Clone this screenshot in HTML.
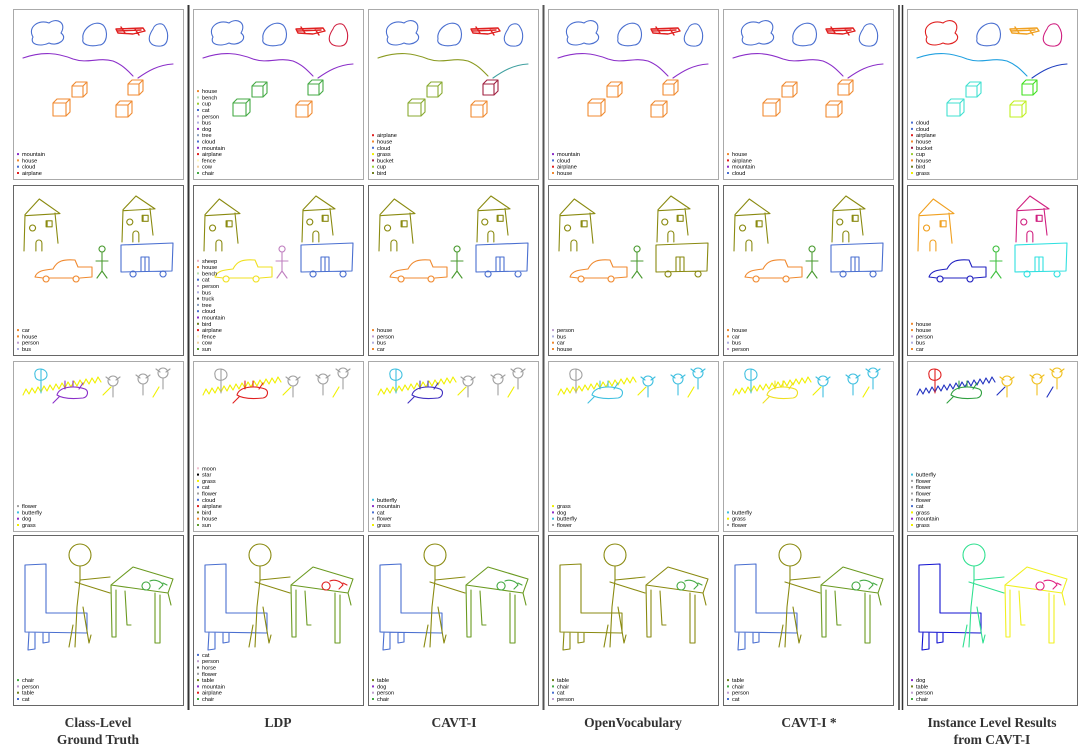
<!DOCTYPE html>
<html><head><meta charset="utf-8">
<style>
html,body{margin:0;padding:0;background:#fff;width:1091px;height:752px;overflow:hidden}
svg{display:block}
.lab{font-family:"Liberation Serif",serif;font-weight:bold;font-size:13.5px;fill:#333;text-anchor:middle}
.lg{font-family:"Liberation Sans",sans-serif;font-size:5.6px;fill:#000}
</style></head><body>
<svg id="fig" width="1091" height="752" viewBox="0 0 1091 752" xmlns="http://www.w3.org/2000/svg">
<line x1="188.5" y1="5" x2="188.5" y2="710" stroke="#333" stroke-width="2"/>
<line x1="543.5" y1="5" x2="543.5" y2="710" stroke="#555" stroke-width="2"/>
<line x1="899" y1="5" x2="899" y2="710" stroke="#333" stroke-width="1.5"/>
<line x1="902.5" y1="5" x2="902.5" y2="710" stroke="#333" stroke-width="1.5"/>
<text class="lab" x="98" y="727">Class-Level</text>
<text class="lab" x="98" y="744">Ground Truth</text>
<text class="lab" x="278" y="727">LDP</text>
<text class="lab" x="454" y="727">CAVT-I</text>
<text class="lab" x="633" y="727">OpenVocabulary</text>
<text class="lab" x="809" y="727">CAVT-I *</text>
<text class="lab" x="992" y="727">Instance Level Results</text>
<text class="lab" x="992" y="744">from CAVT-I</text>
</svg>
<script>
const colX=[13,193,368,548,723,907];
const rowY=[9,185,361,535];
const PW=171, PH=171;
const legends=[
 [["mountain","house","cloud","airplane"],["house","bench","cup","cat","person","bus","dog","tree","cloud","mountain","airplane","fence","cow","chair"],["airplane","house","cloud","grass","bucket","cup","bird"],["mountain","cloud","airplane","house"],["house","airplane","mountain","cloud"],["cloud","cloud","airplane","house","bucket","cup","house","bird","grass"]],
 [["car","house","person","bus"],["sheep","house","bench","cat","person","bus","truck","tree","cloud","mountain","bird","airplane","fence","cow","sun"],["house","person","bus","car"],["person","bus","car","house"],["house","car","bus","person"],["house","house","person","bus","car"]],
 [["flower","butterfly","dog","grass"],["moon","star","grass","cat","flower","cloud","airplane","bird","house","sun"],["butterfly","mountain","cat","flower","grass"],["grass","dog","butterfly","flower"],["butterfly","grass","flower"],["butterfly","flower","flower","flower","flower","cat","grass","mountain","grass"]],
 [["chair","person","table","cat"],["cat","person","horse","flower","table","mountain","airplane","chair"],["table","dog","person","chair"],["table","chair","cat","person"],["table","chair","person","cat"],["dog","table","person","chair"]]
];
const dotColor={mountain:"#8b2fc9",house:"#f08a30",cloud:"#4a6fd0",airplane:"#e02020",bench:"#b8e0b0",cup:"#9acd32",cat:"#4a6fd0",person:"#c0a0d0",bus:"#b0b0e0",dog:"#8b2fc9",tree:"#8aa0c0",fence:"#fff8c0",cow:"#f0d0a0",chair:"#44aa44",grass:"#f0f000",bucket:"#a02040",bird:"#708020",car:"#f08a30",sheep:"#f0b0c0",truck:"#505050",sun:"#60a030",flower:"#a0a0a0",butterfly:"#40c0e0",moon:"#f0c0d0",star:"#000",horse:"#606060",table:"#708020"};
// colours per row per column for each sketch part
const r1C=[{c:["#4a6fd0","#4a6fd0","#e02020","#4a6fd0"],cv:["#8b2fc9","#8b2fc9"],cu:["#f08a30","#f08a30","#f08a30","#f08a30"]},
 {c:["#4a6fd0","#4a6fd0","#e02020","#d02040"],cv:["#8b2fc9","#8b2fc9"],cu:["#44aa44","#44aa44","#44aa44","#f08a30"]},
 {c:["#4a6fd0","#4a6fd0","#e02020","#4a6fd0"],cv:["#8a9a20","#40a0a0"],cu:["#88aa30","#88aa30","#a02040","#f08a30"]},
 {c:["#4a6fd0","#4a6fd0","#e02020","#4a6fd0"],cv:["#8b2fc9","#8b2fc9"],cu:["#f08a30","#f08a30","#f08a30","#f08a30"]},
 {c:["#4a6fd0","#4a6fd0","#e02020","#4a6fd0"],cv:["#8b2fc9","#8b2fc9"],cu:["#f08a30","#f08a30","#f08a30","#f08a30"]},
 {c:["#e02020","#4a6fd0","#f0a020","#d02080"],cv:["#20a0e0","#2040c0"],cu:["#40e0d0","#40e0d0","#40e020","#c0f020"]}];
const r2C=[["#8a8a10","#f08a30","#4a9a30","#4a6fd0"],["#8a8a10","#f0e020","#c080c0","#4a6fd0"],["#8a8a10","#f08a30","#4a9a30","#4a6fd0"],["#8a8a10","#f08a30","#4a9a30","#8a8a10"],["#8a8a10","#f08a30","#4a9a30","#4a6fd0"],["#f0a020","#2020c0","#40c040","#30e0e0"]];
const r2H2=["#8a8a10","#8a8a10","#8a8a10","#8a8a10","#8a8a10","#d02080"];
const r3C=[["#f0f000","#40c0e0","#8b2fc9","#a0a0a0"],["#f0f000","#a0a0a0","#e02020","#a0a0a0"],["#f0f000","#40c0e0","#4030c0","#a0a0a0"],["#f0f000","#a0a0a0","#40c0e0","#40c0e0"],["#f0f000","#40c0e0","#f0e020","#40c0e0"],["#2030c0","#e02020","#30a040","#f0c020"]];
const r4C=[["#4a6fd0","#8a8a10","#6a9a20","#44aa44"],["#4a6fd0","#8a8a10","#6a9a20","#e02020"],["#4a6fd0","#8a8a10","#6a9a20","#44aa44"],["#8a8a10","#8a8a10","#8a8a10","#44aa44"],["#4a6fd0","#8a8a10","#6a9a20","#44aa44"],["#1010d0","#30e090","#f0f020","#e02080"]];
const NS="http://www.w3.org/2000/svg";
const fig=document.getElementById('fig');
function P(g,d,col,w){const p=document.createElementNS(NS,'path');p.setAttribute('d',d);p.setAttribute('fill','none');p.setAttribute('stroke',col);p.setAttribute('stroke-width',w||1.1);p.setAttribute('stroke-linejoin','round');p.setAttribute('stroke-linecap','round');


g.appendChild(p);}
function cube(x,y,s){return `M${x},${y+4} L${x+s},${y+4} L${x+s},${y+s+4} L${x},${y+s+4} Z M${x},${y+4} L${x+4},${y} L${x+s+4},${y} L${x+s},${y+4} M${x+s+4},${y} L${x+s+4},${y+s} L${x+s},${y+s+4}`;}
function house(x,y,w,h){return `M${x},${y+h} L${x+1},${y+h*0.3} L${x+w*0.45},${y} L${x+w+2},${y+h*0.28} L${x+1},${y+h*0.32} M${x+w-3},${y+h*0.27} L${x+w},${y+h*0.85} M${x+w*0.25},${y+h*0.5} a3,3 0 1,0 0.1,0 M${x+w*0.65},${y+h*0.42} h6 v6 h-6 z M${x+w*0.68+0},${y+h*0.42} v6 M${x+w*0.35},${y+h} v-8 a3,3 0 0,1 6,0 v8`;}
function drawRow1(g,k){const c=r1C[k];
 P(g,"M20,28 C14,18 26,10 36,14 C44,8 54,14 48,24 C56,30 44,38 36,34 C28,38 16,36 20,28Z",c.c[0]);
 P(g,"M70,30 C68,20 82,10 90,16 C96,22 94,36 86,36 C78,38 68,36 70,30Z",c.c[1]);
 P(g,"M103,20 L130,19 L132,22 L120,25 L105,24 Z M108,18 L112,24 M122,20 L126,26 M104,22 L128,21",c.c[2],1.4);
 P(g,"M140,20 C142,14 150,13 152,18 C156,24 156,36 148,37 C138,38 132,32 140,20Z",c.c[3]);
 P(g,"M10,49 C30,42 45,44 60,50 C75,55 85,48 100,52 C110,56 115,62 120,67",c.cv[0]);
 P(g,"M125,69 C135,62 145,56 160,55",c.cv[1]);
 P(g,cube(59,73,11),c.cu[0]);P(g,cube(40,90,13),c.cu[1]);P(g,cube(115,71,11),c.cu[2]);P(g,cube(103,92,12),c.cu[3]);}
function drawRow2(g,k){const c=r2C[k];
 P(g,house(11,14,34,52),c[0]);P(g,house(109,11,31,46),r2H2[k]);
 P(g,"M22,92 C24,86 30,85 40,84 C44,76 50,74 62,75 L65,82 L79,82 L79,92 L67,93 M60,93 L36,93 M30,93 L22,92 M33,91 a3,3 0 1,0 0.1,0 M63,91 a3,3 0 1,0 0.1,0",c[1]);
 P(g,"M89,61 a3,3 0 1,0 0.1,0 M89,67 L89,86 M83,76 L95,76 M89,86 L84,93 M89,86 L94,93",c[2]);
 P(g,"M108,60 L160,58 L159,86 L108,87 Z M120,86 a3,3 0 1,0 0.1,0 M150,86 a3,3 0 1,0 0.1,0 M128,86 v-14 h8 v14 M132,72 v14",c[3]);}
function flower(x,y){return `M${x-5},${y} a5,5 0 1,1 10,0 a5,5 0 1,1 -10,0 M${x-7},${y-4} l4,3 M${x+7},${y-4} l-4,3 M${x},${y+5} L${x},${y+16}`;}
function drawRow3(g,k){const c=r3C[k];
 let gr="M10,34";for(let i=0;i<26;i++){gr+=` l3,${i%2?5:-6}`;}
 P(g,gr,c[0]);P(g,"M90,34 l8,-8 M140,36 l6,-10",c[0]);
 P(g,"M22,14 C20,6 34,6 34,14 C34,20 22,22 22,14 M28,8 v14 M28,22 v10",c[1]);
 P(g,"M44,34 C46,26 60,24 72,28 C76,30 75,36 70,37 C60,38 50,38 44,34 M52,28 v-8 M60,26 v-6 M66,28 l4,-6 M46,36 l-6,6",c[2]);
 P(g,flower(100,20)+flower(130,18)+flower(150,12),c[3]);}
function drawRow4(g,k){const c=r4C[k];
 P(g,"M12,30 L33,29 L33,78 L74,78 L74,98 L12,97 Z M16,97 L15,115 L22,114 L22,98 M30,98 L30,108 L36,107 L36,98",c[0]);
 P(g,"M67,20 m-11,0 a11,11 0 1,0 22,0 a11,11 0 1,0 -22,0 M67,31 L67,45 L64,72 L62,112 M67,45 L97,42 M62,47 L97,58 M70,72 L76,108 L78,100 M60,90 L56,112",c[1]);
 P(g,"M98,50 L120,32 L160,44 L155,58 Z M98,50 L99,102 L103,102 L103,55 M112,56 L114,90 L118,90 M142,58 L142,108 L147,108 L147,60 M155,58 L158,70",c[2]);
 P(g,"M133,47 a4,4 0 1,0 0.1,0 M137,46 C141,44 148,46 150,50 L146,54 M150,48 l4,2",c[3]);}
const draws=[drawRow1,drawRow2,drawRow3,drawRow4];
for(let r=0;r<4;r++)for(let k=0;k<6;k++){
 const g=document.createElementNS(NS,'g');g.setAttribute('transform',`translate(${colX[k]},${rowY[r]})`);
 
 
 const rc=document.createElementNS(NS,'rect');rc.setAttribute('x',0.5);rc.setAttribute('y',0.5);rc.setAttribute('width',PW-1);rc.setAttribute('height',PH-1);rc.setAttribute('fill','#fff');rc.setAttribute('stroke',r===0||r===2?'#aaa':'#666');rc.setAttribute('stroke-width',1);
 
 
 g.appendChild(rc);
 draws[r](g,k);
 const L=legends[r][k];const n=L.length;
 L.forEach((t,i)=>{const y=166-(n-1-i)*6.3;
  const d=document.createElementNS(NS,'rect');d.setAttribute('x',4);d.setAttribute('y',y-3);d.setAttribute('width',2);d.setAttribute('height',2);d.setAttribute('fill',dotColor[t]||'#888');
  
  
  g.appendChild(d);
  const tx=document.createElementNS(NS,'text');tx.setAttribute('x',9);tx.setAttribute('y',y);tx.setAttribute('class','lg');tx.textContent=t;
  
  
  g.appendChild(tx);});
 fig.appendChild(g);}
</script>
</body></html>
